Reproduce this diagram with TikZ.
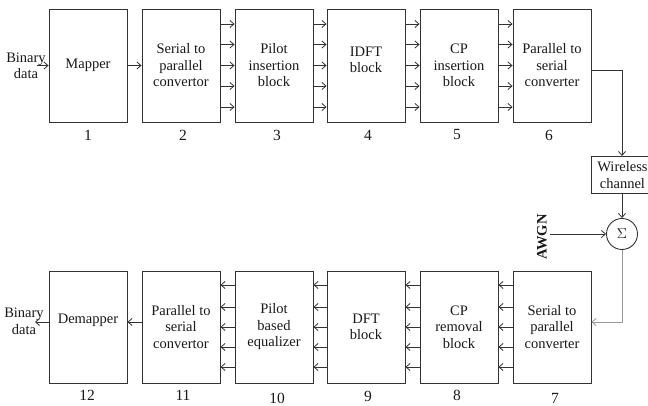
\documentclass[tikz,border=0pt]{standalone}
\usepackage{fontspec}
\setmainfont{Liberation Serif}
\usetikzlibrary{arrows.meta,calc}
\begin{document}
\begin{tikzpicture}[x=1pt,y=-1pt,
  every node/.style={font=\fontsize{14.5}{16.5}\selectfont, text=black!90},
  blk/.style={draw=black!80, line width=0.9pt, minimum width=78pt, minimum height=113pt, align=center, inner sep=1pt},
  arr/.style={draw=black!80, line width=0.8pt, -{Straight Barb[length=4pt,width=7pt]}},
  num/.style={font=\fontsize{15.5}{16}\selectfont}]
\useasboundingbox (0,0) rectangle (648,406);
\clip (0,0) rectangle (648,406);
\fill[white] (0,0) rectangle (648,406);
% top row
\node[blk] (b1) at (88,65.5) {Mapper};
\node[blk] (b2) at (181,65.5) {Serial to\\parallel\\convertor};
\node[blk] (b3) at (274,65.5) {Pilot\\insertion\\block};
\node[blk, text depth=11pt] (b4) at (366,65.5) {IDFT\\block};
\node[blk] (b5) at (459,65.5) {CP\\insertion\\block};
\node[blk] (b6) at (552,65.5) {Parallel to\\serial\\converter};
% bottom row
\node[blk, minimum height=112pt, text depth=16pt] (b12) at (88,327) {Demapper};
\node[blk, minimum height=112pt] (b11) at (181,327) {Parallel to\\serial\\convertor};
\node[blk, minimum height=112pt] (b10) at (274,327) {Pilot\\based\\equalizer};
\node[blk, minimum height=112pt] (b9) at (366,327) {DFT\\block};
\node[blk, minimum height=112pt] (b8) at (459,327) {CP\\removal\\block};
\node[blk, minimum height=112pt] (b7) at (552,327) {Serial to\\parallel\\converter};
% numbers
\foreach \n/\x in {1/88,2/183,3/277,4/368,5/457,6/549}
  \node[num] (n\n) at (\x,135) {\n};
\foreach \n/\x/\y in {12/87/395,11/183/395,10/277/398,9/368/396,8/457/395,7/555/398}
  \node[num] (n\n) at (\x,\y) {\n};
% top arrows
\foreach \a/\b in {b2/b3,b3/b4,b4/b5,b5/b6}
  \foreach \d in {41.5,21,0,-20.5,-41.5}
    \draw[arr] ([yshift=\d pt]\a.east) -- ([yshift=\d pt]\b.west);
\draw[arr] (b1.east) -- (b2.west);
% bottom arrows
\foreach \a/\b in {b7/b8,b8/b9,b9/b10,b10/b11}
  \foreach \d in {42,20,0,-20,-40}
    \draw[arr] ([yshift=\d pt]\a.west) -- ([yshift=\d pt]\b.east);
\draw[arr] ([yshift=5pt]b11.west) -- ([yshift=5pt]b12.east);
% binary data
\node[align=center, inner sep=0pt] (bin1) at (26,66) {Binary\\data};
\coordinate (in1) at (37,65.5);
\draw[arr] (in1) -- (b1.west);
\node[align=center, inner sep=0pt] (bin2) at (24,321.5) {Binary\\data};
\coordinate (out2) at (35,322);
\draw[arr] ([yshift=5pt]b12.west) -- (out2);
% channel
\node[draw=black!80, line width=0.9pt, minimum width=62pt, minimum height=37pt, align=center, inner sep=1pt, anchor=north west] (ch) at (591,156) {Wireless\\channel};
\coordinate (chtop) at (622,156);
\coordinate (c6) at ([yshift=-4.5pt]b6.east);
\draw[arr] (c6) -| (chtop);
\node[draw=black!80, line width=0.9pt, circle, minimum size=31pt, inner sep=0pt] (sum) at (622,234) {$\Sigma$};
\draw[arr] (ch.south -| sum) -- (sum.north);
\node[rotate=90, font=\bfseries\fontsize{14.5}{16}\selectfont, inner sep=0pt] (awgn) at (542,237) {AWGN};
\coordinate (aw) at (550,234);
\draw[arr] (aw) -- (sum.west);
\draw[arr, draw=black!40] (sum.south) |- ([yshift=5pt]b7.east);
\end{tikzpicture}
\end{document}
